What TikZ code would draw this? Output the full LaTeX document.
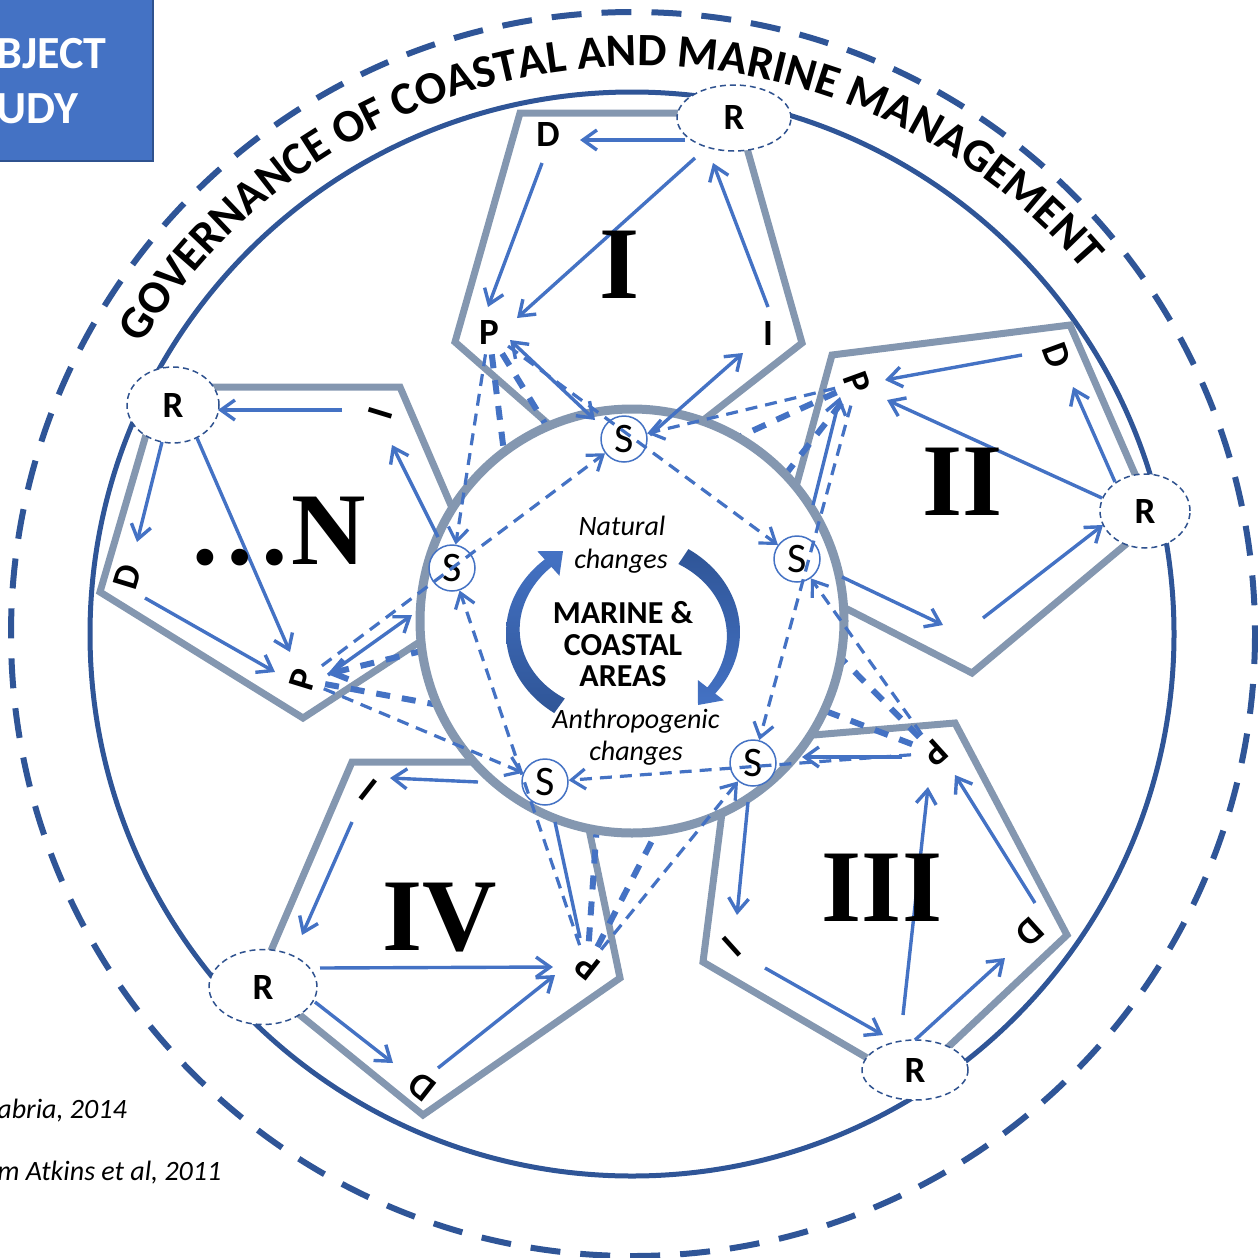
\documentclass[tikz,border=0pt]{standalone}
\usepackage{fontspec}
\setmainfont{Carlito}
\newfontfamily\romannumfont{Liberation Serif}
\usetikzlibrary{arrows.meta,decorations.text,shapes.geometric}
\definecolor{dblue}{HTML}{2F5597}
\definecolor{mblue}{HTML}{4472C4}
\definecolor{pgray}{HTML}{8497B0}
\definecolor{eblue}{HTML}{2F528F}
\newcommand\mygovfont{\bfseries\fontsize{23.2}{23}\selectfont}
\begin{document}
\begin{tikzpicture}[x=0.5pt,y=-0.5pt,
 pentline/.style={draw=pgray, line width=3.5pt, line join=miter},
 solidarr/.style={draw=mblue, line width=1.7pt, -{Straight Barb[length=7pt,width=10pt]}},
 thindash/.style={draw=mblue, line width=1.6pt, dash pattern=on 6pt off 4pt, shorten <=3pt, -{Straight Barb[length=7pt,width=10pt]}},
 thickdash/.style={draw=mblue, line width=3pt, dash pattern=on 7pt off 6pt, shorten <=3pt},
 lbl/.style={font=\bfseries\fontsize{18.5}{18.5}\selectfont, inner sep=2pt},
 snode/.style={circle, draw=mblue, line width=0.75pt, fill=white, minimum size=23pt, inner sep=0pt, font=\fontsize{21}{21}\selectfont},
 rnode/.style={ellipse, draw=eblue, line width=0.75pt, dash pattern=on 3pt off 2pt, fill=white, inner sep=0pt, font=\bfseries\fontsize{18.5}{18.5}\selectfont},
 numeral/.style={font=\romannumfont\bfseries\fontsize{51.5}{52}\selectfont, inner sep=0pt},
 ctext/.style={font=\itshape\fontsize{14}{14}\selectfont, anchor=base},
 mtext/.style={font=\bfseries\fontsize{16}{16}\selectfont, anchor=base},
]
\useasboundingbox (0,0) rectangle (1258,1258);
% top-left box
\path[fill=mblue, draw=eblue, line width=0.75pt] (-3,-3) rectangle (153,161);
\node[anchor=base west, text=white, font=\bfseries\fontsize{23}{23}\selectfont, inner sep=0pt] (bx1) at (-4,68) {BJECT};
\node[anchor=base west, text=white, font=\bfseries\fontsize{23}{23}\selectfont, inner sep=0pt] (bx2) at (-4,123) {UDY};
% governance circles
\draw[dblue, line width=3pt, dash pattern=on 15pt off 10pt] (633,634) circle[radius=622];
\draw[dblue, line width=2.5pt] (632,634) circle[radius=542];
\path[decorate, decoration={text along path, text align={left}, text={|\mygovfont|GOVERNANCE OF COASTAL AND MARINE MANAGEMENT}}]
  (640,650) ++(-148.5:584) arc[start angle=-148.5, end angle=-20, radius=584];
% pentagons
\draw[pentline] (520,113) -- (737,113) -- (802,343) -- (619,486) -- (455,342) -- cycle;
\draw[pentline] (832,355) -- (1070,325) -- (1155,520) -- (972,673) -- (773,571) -- cycle;
\draw[pentline] (955,723) -- (1067,935) -- (910,1083) -- (703,962) -- (731,742) -- cycle;
\draw[pentline] (352,762) -- (575,762) -- (620,978) -- (423,1115) -- (258,981) -- cycle;
\draw[pentline] (160,387) -- (400,387) -- (490,596) -- (303,718) -- (100,592) -- cycle;
% labels
\node[lbl] (D1) at (548,135) {D};
\node[lbl] (P1) at (489,332) {P};
\node[lbl] (I1) at (768,333) {I};
\node[lbl, rotate=-70] (D2) at (1057,355) {D};
\node[lbl, rotate=-70] (P2) at (857,383) {P};
\node[lbl, rotate=-138] (D3) at (1030,932) {D};
\node[lbl, rotate=-138] (P3) at (935,753) {P};
\node[lbl, rotate=-138] (I3) at (732,947) {I};
\node[lbl, rotate=142] (D4) at (422,1087) {D};
\node[lbl, rotate=142] (P4) at (587,967) {P};
\node[lbl, rotate=142] (I4) at (368,790) {I};
\node[lbl, rotate=73] (DN) at (127,577) {D};
\node[lbl, rotate=73] (PN) at (303,680) {P};
\node[lbl, rotate=73] (IN) at (380,413) {I};
% state centres
\coordinate (S1c) at (624,439);
\coordinate (S2c) at (797,559);
\coordinate (S3c) at (753,763);
\coordinate (S4c) at (545,782);
\coordinate (SNc) at (452,568);
% thick dashed (partly hidden by the inner circle)
\draw[thickdash] (P1) -- (S3c);
\draw[thickdash] (P1) -- (S4c);
\draw[thickdash] (P2) -- (S4c);
\draw[thickdash] (P2) -- (SNc);
\draw[thickdash] (P3) -- (SNc);
\draw[thickdash] (P3) -- (S1c);
\draw[thickdash] (P4) -- (S1c);
\draw[thickdash] (P4) -- (S2c);
\draw[thickdash, {Straight Barb[length=7pt,width=10pt]}-] (PN) -- (S2c);
\draw[thickdash] (PN) -- (S3c);
% inner circle
\draw[pgray, line width=4.5pt, fill=white] (632,621) circle[radius=212];
% S nodes
\node[snode] (S1) at (S1c) {S};
\node[snode] (S2) at (S2c) {S};
\node[snode] (S3) at (S3c) {S};
\node[snode] (S4) at (S4c) {S};
\node[snode] (SN) at (SNc) {S};
% thin dashed
\draw[thindash] (P1) -- (S2);
\draw[thindash] (P1) -- (SN);
\draw[thindash] (P2) -- (S3);
\draw[thindash] (P2) -- (S1);
\draw[thindash] (P3) -- (S4);
\draw[thindash] (P3) -- (S2);
\draw[thindash] (P4) -- (SN);
\draw[thindash] (P4) -- (S3);
\draw[thindash] (PN) -- (S1);
\draw[thindash] (PN) -- (S4);
% R nodes
\node[rnode, minimum width=57pt, minimum height=33pt] (R1) at (734,118) {R};
\node[rnode, minimum width=45pt, minimum height=37pt] (R2) at (1145,511) {R};
\node[rnode, minimum width=53pt, minimum height=30pt] (R3) at (915,1070) {R};
\node[rnode, minimum width=54pt, minimum height=37.5pt] (R4) at (263,987) {R};
\node[rnode, minimum width=46pt, minimum height=38pt] (RN) at (173,405) {R};
% solid arrows
\foreach \n/\xa/\ya/\xb/\yb in {
 a1/685/140/580/140, a2/542/163/488/307, a3/695/158/517/318, a4/768/307/713/163, a6/650/435/743/353,
 b1/1022/355/885/380, b2/1102/498/887/400, b3/1115/482/1073/387, b4/842/577/943/625, b5/983/618/1103/525, b6/813/505/840/397,
 c1/902/757/802/757, c2/748/802/737/915, c3/765/968/883/1035, c4/903/1015/928/787, c5/915/1040/1005/958, c6/1035/903/955/775,
 d1/478/782/390/778, d2/352/822/302/935, d3/320/968/553/967, d4/315/1002/393/1063, d5/438/1068/555/975,
 e1/342/410/218/410, e2/162/442/137/542, e3/197/438/290/652, e4/145/598/275/672, e5/438/537/392/445, e6/328/675/412/615}
{\coordinate (s\n) at (\xa,\ya); \coordinate (e\n) at (\xb,\yb); \draw[solidarr] (s\n) -- (e\n);}
\coordinate (sa5) at (510,340); \coordinate (ea5) at (595,420);
\draw[solidarr, {Straight Barb[length=7pt,width=10pt]}-{Straight Barb[length=7pt,width=10pt]}] (sa5) -- (ea5);
\coordinate (sd6) at (555,822); \coordinate (ed6) at (580,938);
\draw[draw=mblue, line width=1.7pt] (sd6) -- (ed6);
% numerals
\node[numeral] (n1) at (620,265) {I};
\node[numeral] (n2) at (963,482) {II};
\node[numeral] (n3) at (882,888) {III};
\node[numeral] (n4) at (440,918) {IV};
\node[numeral] (n5) at (277,532) {…N};
% centre arrows
\shade[top color=mblue, bottom color=dblue]
  plot[domain=234:132, samples=40] ({623+117*cos(\x)}, {633-99*sin(\x)})
  -- ({623+128*cos(132)}, {633-110*sin(132)})
  -- (563,551)
  -- ({623+95*cos(132)}, {633-77*sin(132)})
  -- ({623+107*cos(132)}, {633-89*sin(132)})
  -- plot[domain=132:234, samples=40] ({623+(107-(\x-132)/102*8)*cos(\x)}, {633-(89-(\x-132)/102*8)*sin(\x)})
  -- cycle;
\shade[top color=dblue, bottom color=mblue]
  plot[domain=56:-38, samples=40] ({623+117*cos(\x)}, {632-100*sin(\x)})
  -- ({623+128*cos(-38)}, {632-111*sin(-38)})
  -- (698,705)
  -- ({623+95*cos(-38)}, {632-78*sin(-38)})
  -- ({623+107*cos(-38)}, {632-90*sin(-38)})
  -- plot[domain=-38:56, samples=40] ({623+(107-(\x+38)/94*8)*cos(\x)}, {632-(90-(\x+38)/94*8)*sin(\x)})
  -- cycle;
% centre texts
\node[ctext] (nat1) at (622,535) {Natural};
\node[ctext] (nat2) at (621,568) {changes};
\node[mtext] (m1) at (623,623) {MARINE \&};
\node[mtext] (m2) at (623,655) {COASTAL};
\node[mtext] (m3) at (623,686) {AREAS};
\node[ctext] (ant1) at (636,728) {Anthropogenic};
\node[ctext] (ant2) at (636,760) {changes};
% footnotes
\node[anchor=base west, font=\itshape\fontsize{14}{14}\selectfont, inner sep=0pt] (fn1) at (-3,1118) {abria, 2014};
\node[anchor=base west, font=\itshape\fontsize{14}{14}\selectfont, inner sep=0pt] (fn2) at (-3,1180) {m Atkins et al, 2011};
\end{tikzpicture}
\end{document}
